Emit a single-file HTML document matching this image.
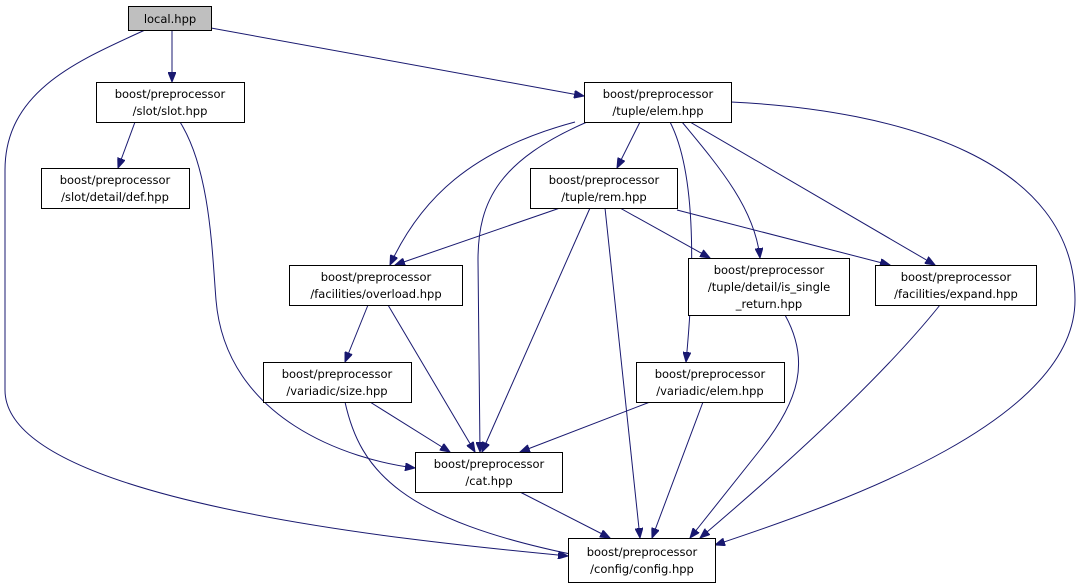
<!DOCTYPE html>
<html><head><meta charset="utf-8"><style>
html,body{margin:0;padding:0;background:#fff;}
svg{display:block;}
text{font-family:"DejaVu Sans","Liberation Sans",sans-serif;font-size:11.5px;fill:#000;}
</style></head><body>
<svg width="1080" height="588" viewBox="0 0 1080 588" xmlns="http://www.w3.org/2000/svg">
<defs>
<marker id="a" markerWidth="11" markerHeight="8" refX="10" refY="4" orient="auto" markerUnits="userSpaceOnUse">
<path d="M0,0 L10,4 L0,8 z" fill="#191970" stroke="#191970"/>
</marker>
</defs>
<g fill="none" stroke="#191970" stroke-width="1" marker-end="url(#a)">
<path d="M172,30 L172,82"/>
<path d="M211,28 L584,96"/>
<path d="M145,30 C80,60 5,90 5,170 L5,390 C5,500 400,540 568,556"/>
<path d="M135,122 L118,168"/>
<path d="M180,122 C210,170 212,250 216,300 C226,420 350,460 415,468"/>
<path d="M640,122 L617,168"/>
<path d="M575,122 C470,150 420,200 390,265"/>
<path d="M587,122 C500,160 478,200 478,260 L480,452"/>
<path d="M682,122 C722,170 755,210 760,258"/>
<path d="M670,122 C700,180 692,300 686,362"/>
<path d="M690,122 L935,265"/>
<path d="M731,102 C900,110 1075,160 1075,300 C1075,420 850,500 715,545"/>
<path d="M560,208 L395,265"/>
<path d="M590,208 L482,452"/>
<path d="M605,208 L640,538"/>
<path d="M620,208 L710,258"/>
<path d="M677,210 L890,265"/>
<path d="M368,305 L345,362"/>
<path d="M388,305 L475,452"/>
<path d="M370,402 L450,452"/>
<path d="M345,402 C360,470 400,520 580,556"/>
<path d="M650,402 L520,452"/>
<path d="M703,402 L652,538"/>
<path d="M785,315 C810,360 800,400 760,450 L690,538"/>
<path d="M940,305 C880,380 780,470 700,538"/>
<path d="M520,492 L610,538"/>
</g>
<g stroke="#000" stroke-width="1">
<rect x="128.5" y="6.5" width="83" height="24" fill="#bfbfbf"/>
<rect x="96.5" y="82.5" width="148" height="40" fill="#fff"/>
<rect x="584.5" y="82.5" width="147" height="40" fill="#fff"/>
<rect x="41.5" y="168.5" width="148" height="40" fill="#fff"/>
<rect x="530.5" y="168.5" width="147" height="40" fill="#fff"/>
<rect x="289.5" y="265.5" width="173" height="40" fill="#fff"/>
<rect x="688.5" y="258.5" width="161" height="57" fill="#fff"/>
<rect x="875.5" y="265.5" width="161" height="40" fill="#fff"/>
<rect x="263.5" y="362.5" width="148" height="40" fill="#fff"/>
<rect x="636.5" y="362.5" width="148" height="40" fill="#fff"/>
<rect x="415.5" y="452.5" width="147" height="40" fill="#fff"/>
<rect x="568.5" y="538.5" width="147" height="44" fill="#fff"/>
</g>
<g text-anchor="middle">
<text x="170" y="23">local.hpp</text>
<text x="170" y="98">boost/preprocessor</text><text x="170" y="115">/slot/slot.hpp</text>
<text x="658" y="98">boost/preprocessor</text><text x="658" y="115">/tuple/elem.hpp</text>
<text x="115" y="184">boost/preprocessor</text><text x="115" y="201">/slot/detail/def.hpp</text>
<text x="604" y="184">boost/preprocessor</text><text x="604" y="201">/tuple/rem.hpp</text>
<text x="376" y="281">boost/preprocessor</text><text x="376" y="298">/facilities/overload.hpp</text>
<text x="769" y="274">boost/preprocessor</text><text x="769" y="291">/tuple/detail/is_single</text><text x="769" y="308">_return.hpp</text>
<text x="956" y="281">boost/preprocessor</text><text x="956" y="298">/facilities/expand.hpp</text>
<text x="337" y="378">boost/preprocessor</text><text x="337" y="395">/variadic/size.hpp</text>
<text x="710" y="378">boost/preprocessor</text><text x="710" y="395">/variadic/elem.hpp</text>
<text x="489" y="468">boost/preprocessor</text><text x="489" y="485">/cat.hpp</text>
<text x="642" y="556">boost/preprocessor</text><text x="642" y="573">/config/config.hpp</text>
</g>
</svg>
</body></html>
